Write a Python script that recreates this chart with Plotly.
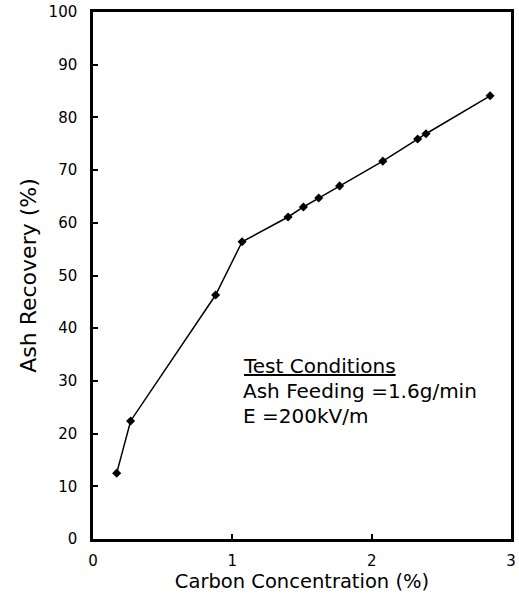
import plotly.graph_objects as go

carbon = [0.17, 0.27, 0.88, 1.07, 1.40, 1.51, 1.62, 1.77, 2.08, 2.33, 2.39, 2.85]
recovery = [12.5, 22.4, 46.3, 56.4, 61.1, 63.0, 64.7, 67.0, 71.7, 75.9, 76.9, 84.1]
x_ticks = [0, 1, 2, 3]
y_ticks = list(range(0, 101, 10))
notes = ["<u>Test Conditions</u>", "Ash Feeding =1.6g/min", "E =200kV/m"]
note_y = [32.8, 28.0, 23.4]

font = "DejaVu Sans, Arial, sans-serif"

fig = go.Figure()
fig.add_trace(go.Scatter(
    x=carbon, y=recovery, mode="lines+markers",
    line=dict(color="black", width=1.5),
    marker=dict(symbol="diamond", size=7, color="black"),
    showlegend=False,
))

for txt, yy in zip(notes, note_y):
    fig.add_annotation(
        x=1.065, y=yy, xref="x", yref="y", xanchor="left", yanchor="middle",
        text=txt, showarrow=False,
        font=dict(family=font, size=20, color="black"),
    )

fig.update_layout(
    width=519, height=595,
    margin=dict(l=93, r=8, t=12, b=56),
    paper_bgcolor="white", plot_bgcolor="white",
    font=dict(family=font, color="black"),
    xaxis=dict(
        range=[0, 3], tickvals=x_ticks, ticktext=[str(v) for v in x_ticks],
        ticks="inside", ticklen=5, tickwidth=1.5, tickcolor="black",
        showline=True, linecolor="black", linewidth=2.5, mirror=True,
        showgrid=False, zeroline=False, automargin=False,
        ticklabeloverflow="allow", ticklabelstandoff=6,
        tickfont=dict(size=15),
        title=dict(text="Carbon Concentration (%)", font=dict(size=19.5), standoff=0),
    ),
    yaxis=dict(
        range=[0, 100], tickvals=y_ticks,
        ticks="inside", ticklen=5, tickwidth=1.5, tickcolor="black",
        showline=True, linecolor="black", linewidth=2.5, mirror=True,
        showgrid=False, zeroline=False, automargin=False,
        ticklabeloverflow="allow", ticklabelstandoff=10,
        tickfont=dict(size=15),
        title=dict(text="Ash Recovery (%)", font=dict(size=22), standoff=6),
    ),
)

# remove the default 8px page margin so the figure fills the window exactly
fig.write_html(
    "out.html",
    config={"displayModeBar": False},
    post_script="document.body.style.margin='0';",
)
